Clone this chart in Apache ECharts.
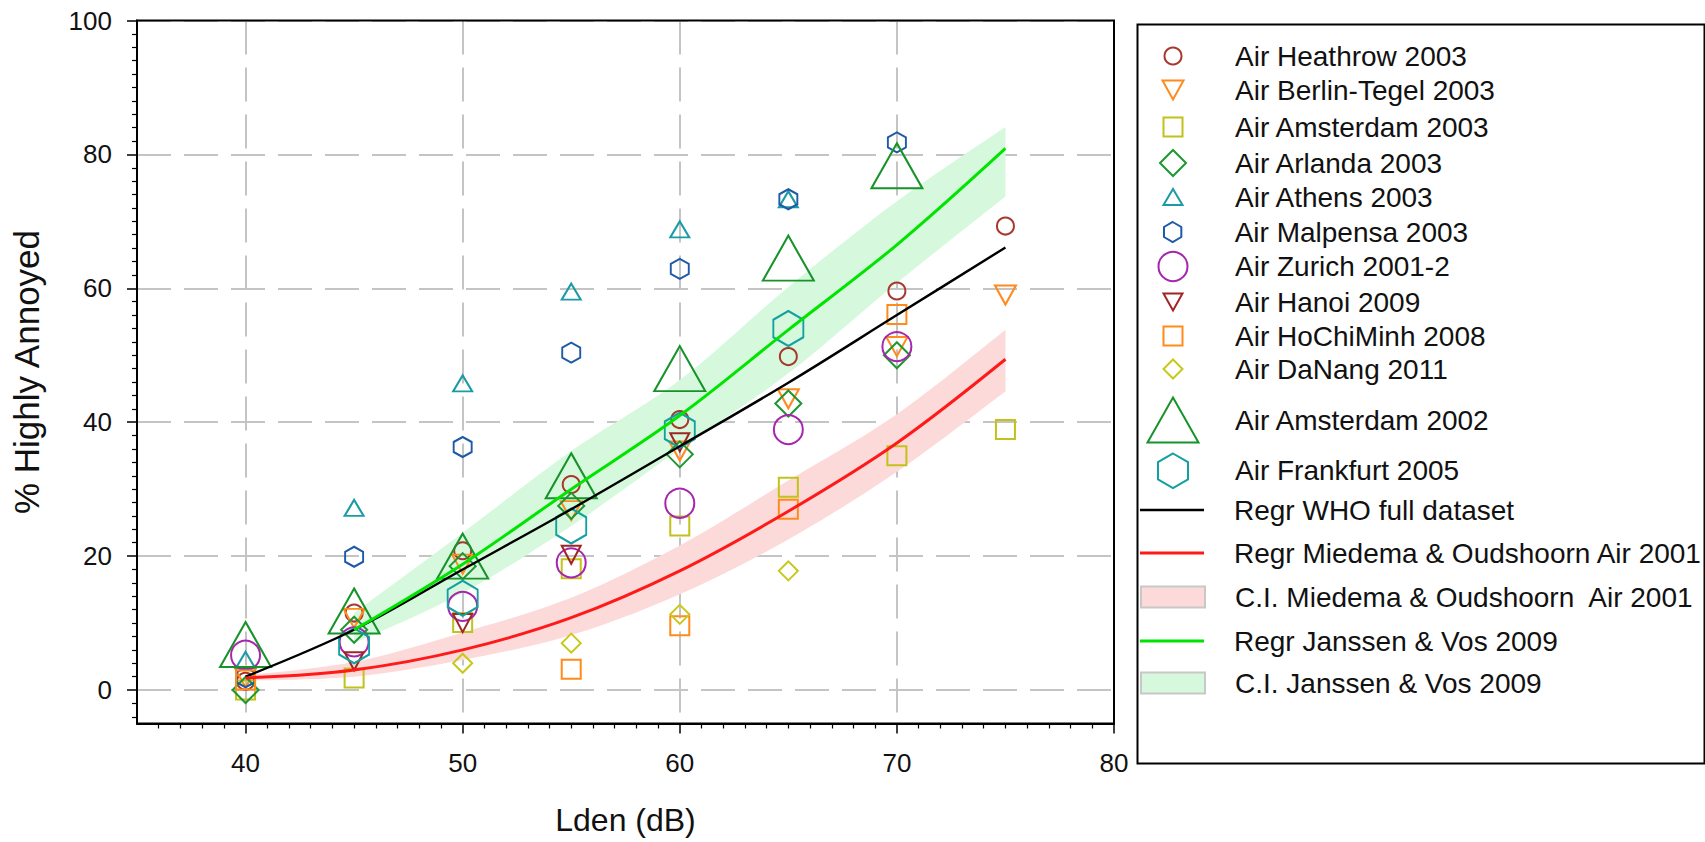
<!DOCTYPE html>
<html>
<head>
<meta charset="utf-8">
<script src="https://cdn.jsdelivr.net/npm/echarts@6/dist/echarts.min.js"></script>
<style>
html,body{margin:0;padding:0;background:#fff;}
#chart{width:1705px;height:842px;}
</style>
</head>
<body>
<div id="chart"></div>
<script>
// ---------------- DATA ----------------
const ldenLevels = [40, 45, 50, 55, 60, 65, 70, 75];

const heathrow2003    = [1.3, 11.5, 20.8, 30.7, 40.4, 49.8, 59.6, 69.3];
const berlinTegel2003 = [1.8, 10.7, 18.8, 26.8, 35.7, 43.5, 51.3, 59.0];
const amsterdam2003   = [0.0, 1.8, 10.1, 18.1, 24.5, 30.3, 35.0, 38.9];
const arlanda2003     = [0.0, 9.0, 18.5, 27.5, 35.2, 42.8, 50.0, null];
const athens2003      = [4.5, 27.2, 45.8, 59.5, 68.8, 73.3, null, null];
const malpensa2003    = [1.9, 19.9, 36.3, 50.4, 62.9, 73.3, 81.8, null];
const zurich2001      = [5.2, 7.2, 12.5, 19.0, 27.9, 38.9, 51.3, null];
const hanoi2009       = [null, 4.3, 10.0, 20.2, 37.0, null, null, null];
const hoChiMinh2008   = [1.5, null, null, 3.1, 9.6, 27.0, 56.1, null];
const daNang2011      = [null, null, 4.0, 7.0, 11.3, 17.8, null, null];
const amsterdam2002   = [6.8, 11.8, 20.0, 32.0, 48.0, 64.5, 78.3, null];
const frankfurt2005   = [null, 6.6, 13.7, 24.5, 38.8, 54.0, null, null];

// regression curves (read at 5 dB steps)
const fitLden     = [40, 45, 50, 55, 60, 65, 70, 75];
const whoFit      = [2.0, 9.0, 18.0, 27.0, 36.4, 45.9, 56.0, 66.1];
const miedemaFit  = [1.8, 3.0, 6.0, 10.8, 17.8, 26.7, 36.9, 49.4];
const miedemaLow  = [1.4, 2.0, 4.5, 8.2, 14.3, 22.5, 32.6, 44.6];
const miedemaHigh = [2.2, 4.2, 8.6, 13.8, 21.6, 31.3, 41.2, 53.8];

const janssenLden = [45, 50, 55, 60, 65, 70, 75];
const janssenFit  = [9.0, 18.8, 30.0, 41.0, 53.8, 66.5, 80.9];
const janssenLow  = [7.0, 14.5, 24.5, 36.0, 47.3, 60.8, 73.7];
const janssenHigh = [11.5, 23.5, 35.7, 46.3, 60.2, 73.0, 84.1];

// tick labels
const xTickLabels = [40, 50, 60, 70, 80];
const yTickLabels = [0, 20, 40, 60, 80, 100];

// ---------------- helpers ----------------
const FONT = "'Liberation Sans', Arial, Helvetica, sans-serif";
const zip = (xs, ys) => xs.map((x, i) => [x, ys[i]]).filter(p => p[1] !== null && p[1] !== undefined);

const DOWN_TRI = 'path://M0,0 L2,0 L1,1.8 Z';
const HEX = 'path://M0.866,0 L1.732,0.5 L1.732,1.5 L0.866,2 L0,1.5 L0,0.5 Z';

const xMinorTicks = [];
for (let v = 36; v <= 79; v++) if (v % 10 !== 0) xMinorTicks.push(v);
const yMinorTicks = [];
for (let v = -4; v <= 98; v += 2) if (v % 20 !== 0) yMinorTicks.push(v);

const scatterDefs = [
  {name: 'Air Heathrow 2003',     values: heathrow2003,    symbol: 'circle',  size: [17, 17], color: '#a8382c'},
  {name: 'Air Berlin-Tegel 2003', values: berlinTegel2003, symbol: DOWN_TRI,  size: [21, 19], color: '#ff8a1e'},
  {name: 'Air Amsterdam 2003',    values: amsterdam2003,   symbol: 'rect',    size: [19, 19], color: '#c2c21a'},
  {name: 'Air Arlanda 2003',      values: arlanda2003,     symbol: 'diamond', size: [26, 26], color: '#1e9632'},
  {name: 'Air Athens 2003',       values: athens2003,      symbol: 'triangle',size: [19, 16], color: '#1a9ba6'},
  {name: 'Air Malpensa 2003',     values: malpensa2003,    symbol: HEX,       size: [18, 20], color: '#1f5aa6'},
  {name: 'Air Zurich 2001-2',     values: zurich2001,      symbol: 'circle',  size: [29, 29], color: '#a626ad'},
  {name: 'Air Hanoi 2009',        values: hanoi2009,       symbol: DOWN_TRI,  size: [19, 18], color: '#a02626'},
  {name: 'Air HoChiMinh 2008',    values: hoChiMinh2008,   symbol: 'rect',    size: [19, 19], color: '#ff8c1a'},
  {name: 'Air DaNang 2011',       values: daNang2011,      symbol: 'diamond', size: [19, 19], color: '#c8c81a'},
  {name: 'Air Amsterdam 2002',    values: amsterdam2002,   symbol: 'triangle',size: [51, 45], color: '#17932a'},
  {name: 'Air Frankfurt 2005',    values: frankfurt2005,   symbol: HEX,       size: [30, 35], color: '#12a0a0'}
];

const NAME_WHO = 'Regr WHO full dataset';
const NAME_MO = 'Regr Miedema & Oudshoorn Air 2001';
const NAME_MO_CI = 'C.I. Miedema & Oudshoorn  Air 2001';
const NAME_JV = 'Regr Janssen & Vos 2009';
const NAME_JV_CI = 'C.I. Janssen & Vos 2009';

const COL_WHO = '#000000';
const COL_MO = '#ff1a1a';
const COL_MO_CI = '#fddada';
const COL_JV = '#00e400';
const COL_JV_CI = '#d6f9dd';

const SMOOTH = 0.35;

// Catmull-Rom smoothing of already-projected pixel points (drawing only)
function smoothPixels(pts, seg) {
  const out = [];
  for (let i = 0; i < pts.length - 1; i++) {
    const p0 = pts[i - 1] || pts[i], p1 = pts[i], p2 = pts[i + 1], p3 = pts[i + 2] || pts[i + 1];
    for (let s = 0; s < seg; s++) {
      const t = s / seg, t2 = t * t, t3 = t2 * t;
      const f = k => 0.5 * ((2 * p1[k]) + (-p0[k] + p2[k]) * t +
        (2 * p0[k] - 5 * p1[k] + 4 * p2[k] - p3[k]) * t2 +
        (-p0[k] + 3 * p1[k] - 3 * p2[k] + p3[k]) * t3);
      out.push([f(0), f(1)]);
    }
  }
  out.push(pts[pts.length - 1]);
  return out;
}

function bandSeries(name, xs, lo, hi, color) {
  return {
    type: 'custom', name: name, silent: true, z: 2,
    data: xs.map((x, i) => [x, lo[i], hi[i]]),
    encode: {x: 0, y: [1, 2]},
    itemStyle: {color: color},
    renderItem: function (params, api) {
      if (params.dataIndex !== 0) return null;
      const upper = xs.map((x, i) => api.coord([x, hi[i]]));
      const lower = xs.map((x, i) => api.coord([x, lo[i]]));
      const pts = smoothPixels(upper, 10).concat(smoothPixels(lower, 10).reverse());
      return {type: 'polygon', shape: {points: pts}, style: {fill: color}, silent: true};
    }
  };
}

// ---------------- series ----------------
const series = [];
series.push(bandSeries(NAME_MO_CI, fitLden, miedemaLow, miedemaHigh, COL_MO_CI));
series.push(bandSeries(NAME_JV_CI, janssenLden, janssenLow, janssenHigh, COL_JV_CI));

scatterDefs.forEach(d => {
  series.push({
    type: 'scatter', name: d.name, data: zip(ldenLevels, d.values),
    symbol: d.symbol, symbolSize: d.size, z: 3, silent: true,
    itemStyle: {color: 'rgba(255,255,255,0)', borderColor: d.color, borderWidth: 2, opacity: 1}
  });
});

series.push({
  type: 'line', name: NAME_WHO, data: zip(fitLden, whoFit), symbol: 'none', smooth: SMOOTH, z: 4, silent: true,
  lineStyle: {color: COL_WHO, width: 2.4}, itemStyle: {color: COL_WHO}
});
series.push({
  type: 'line', name: NAME_MO, data: zip(fitLden, miedemaFit), symbol: 'none', smooth: SMOOTH, z: 4, silent: true,
  lineStyle: {color: COL_MO, width: 3}, itemStyle: {color: COL_MO}
});
series.push({
  type: 'line', name: NAME_JV, data: zip(janssenLden, janssenFit), symbol: 'none', smooth: SMOOTH, z: 4, silent: true,
  lineStyle: {color: COL_JV, width: 3}, itemStyle: {color: COL_JV}
});

// ---------------- legends (one per row) ----------------
const LEG_CX = 1172, LEG_TEXT_X = 1234, LEG_FONT = 28, LEG_LH = 30;
const legendRows = [
  {name: 'Air Heathrow 2003',     y: 56,  w: 17, h: 17},
  {name: 'Air Berlin-Tegel 2003', y: 90,  w: 21, h: 19},
  {name: 'Air Amsterdam 2003',    y: 127, w: 19, h: 19},
  {name: 'Air Arlanda 2003',      y: 163, w: 26, h: 26},
  {name: 'Air Athens 2003',       y: 197, w: 19, h: 16},
  {name: 'Air Malpensa 2003',     y: 232, w: 18, h: 20},
  {name: 'Air Zurich 2001-2',     y: 266, w: 29, h: 29},
  {name: 'Air Hanoi 2009',        y: 302, w: 19, h: 18},
  {name: 'Air HoChiMinh 2008',    y: 336, w: 19, h: 19},
  {name: 'Air DaNang 2011',       y: 369, w: 19, h: 19},
  {name: 'Air Amsterdam 2002',    y: 419, w: 51, h: 45},
  {name: 'Air Frankfurt 2005',    y: 470, w: 30, h: 35},
  {name: NAME_WHO,                y: 510, w: 64, h: 2.5, line: COL_WHO},
  {name: NAME_MO,                 y: 553, w: 64, h: 3,   line: COL_MO},
  {name: NAME_MO_CI,              y: 597, w: 64, h: 21,  rect: COL_MO_CI},
  {name: NAME_JV,                 y: 641, w: 64, h: 3,   line: COL_JV},
  {name: NAME_JV_CI,              y: 683, w: 64, h: 21,  rect: COL_JV_CI}
];
const legends = legendRows.map(r => {
  const boxH = Math.max(r.h, LEG_LH);
  const lg = {
    show: true,
    data: [r.name],
    orient: 'vertical',
    left: LEG_CX - r.w / 2,
    top: r.y - boxH / 2,
    padding: 0,
    itemWidth: r.w,
    itemHeight: r.h,
    selectedMode: false,
    textStyle: {
      fontSize: LEG_FONT, color: '#111', fontFamily: FONT, lineHeight: LEG_LH,
      padding: [0, 0, 0, Math.max(0, LEG_TEXT_X - (LEG_CX + r.w / 2 + 5))]
    }
  };
  if (r.rect) {
    lg.icon = 'rect';
    lg.itemStyle = {color: r.rect, borderColor: '#c8c8c8', borderWidth: 2, opacity: 1};
  } else if (r.line) {
    lg.icon = 'rect';
    lg.itemStyle = {color: r.line, borderWidth: 0, opacity: 1};
  }
  return lg;
});

// ---------------- chart ----------------
const chart = echarts.init(document.getElementById('chart'), null, {renderer: 'svg', width: 1705, height: 842});

const splitStyle = {color: '#c4c4c4', width: 2, type: [34, 13]};

chart.setOption({
  animation: false,
  backgroundColor: '#ffffff',
  grid: {
    left: 137, right: 591, top: 20.5, bottom: 118.5, z: 1,
    show: true, borderColor: '#000', borderWidth: 2, backgroundColor: 'rgba(0,0,0,0)',
    containLabel: false, outerBoundsMode: 'none'
  },
  xAxis: [
    {
      type: 'value', min: 35, max: 80, position: 'bottom', z: 0,
      name: 'Lden (dB)', nameLocation: 'middle', nameGap: 80,
      nameTextStyle: {fontSize: 32, color: '#111', fontFamily: FONT},
      axisLine: {show: true, onZero: false, lineStyle: {color: '#000', width: 2}},
      axisTick: {show: true, customValues: xTickLabels, length: 10, lineStyle: {color: '#000', width: 1.5}},
      axisLabel: {show: true, customValues: xTickLabels, margin: 26, fontSize: 26, color: '#111', fontFamily: FONT},
      splitLine: {show: true, lineStyle: splitStyle}
    },
    {
      type: 'value', min: 35, max: 80, position: 'bottom', gridIndex: 0, z: 0,
      axisLine: {show: false, onZero: false},
      axisTick: {show: true, customValues: xMinorTicks, length: 5, lineStyle: {color: '#000', width: 1.2}},
      axisLabel: {show: false},
      splitLine: {show: false}
    }
  ],
  yAxis: [
    {
      type: 'value', min: -5, max: 100, position: 'left', z: 0,
      name: '% Highly Annoyed', nameLocation: 'middle', nameGap: 93,
      nameTextStyle: {fontSize: 35, color: '#111', fontFamily: FONT},
      axisLine: {show: true, onZero: false, lineStyle: {color: '#000', width: 2}},
      axisTick: {show: true, customValues: yTickLabels, length: 10, lineStyle: {color: '#000', width: 1.5}},
      axisLabel: {show: true, customValues: yTickLabels, margin: 25, fontSize: 26, color: '#111', fontFamily: FONT},
      splitLine: {show: true, lineStyle: splitStyle}
    },
    {
      type: 'value', min: -5, max: 100, position: 'left', gridIndex: 0, z: 0,
      axisLine: {show: false, onZero: false},
      axisTick: {show: true, customValues: yMinorTicks, length: 5, lineStyle: {color: '#000', width: 1.2}},
      axisLabel: {show: false},
      splitLine: {show: false}
    }
  ],
  legend: legends,
  graphic: [{
    type: 'rect', left: 1135, top: 22, silent: true, z: 0,
    shape: {width: 567, height: 739},
    style: {fill: 'none', stroke: '#000', lineWidth: 2}
  }],
  series: series
});
</script>
</body>
</html>
